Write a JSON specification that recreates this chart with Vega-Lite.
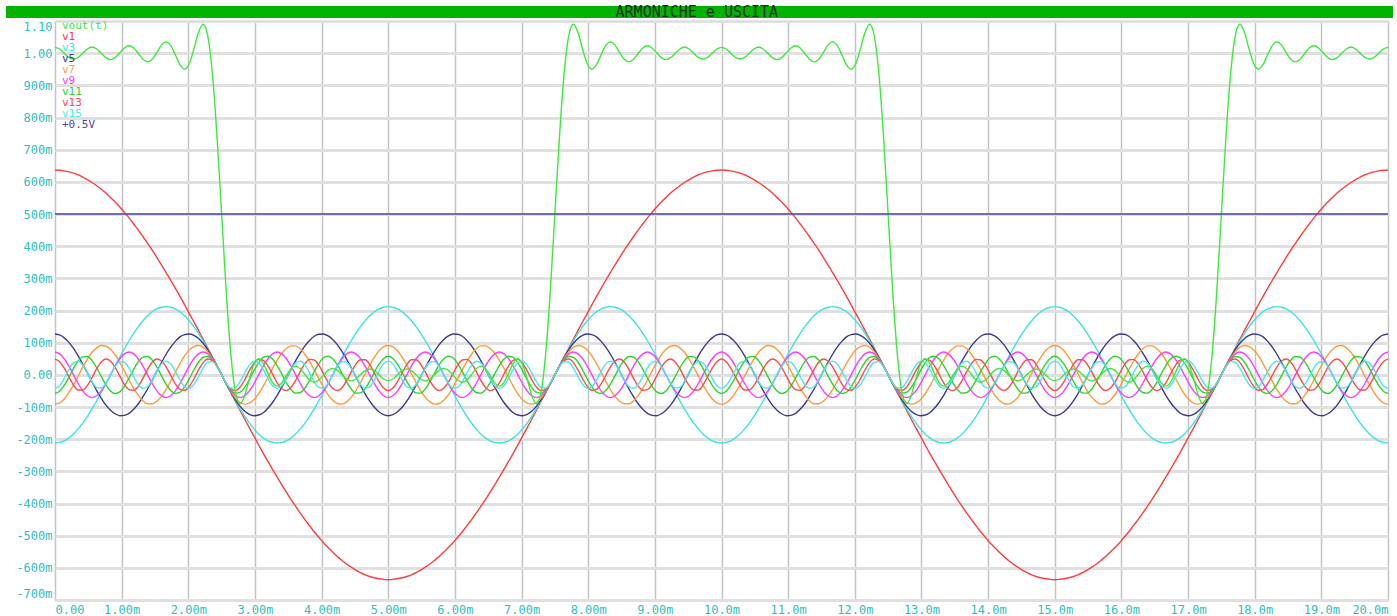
{
"$schema":"https://vega.github.io/schema/vega-lite/v6.json",
"width":1333,"height":579,
"autosize":{"type":"none"},
"padding":{"left":55,"top":21,"right":9,"bottom":16},
"background":"#ffffff",
"config":{"view":{"stroke":"#a8a8a8","strokeWidth":1},"axis":{"labelOverlap":false}},
"datasets":{"harm":[
{"t":0,"v1":0.637,"v3":-0.212,"v5":0.127,"v7":-0.091,"v9":0.071,"v11":-0.058,"v13":0.049,"v15":-0.042,"vout":1.018},
{"t":0.0694,"v1":0.636,"v3":-0.21,"v5":0.124,"v7":-0.087,"v9":0.065,"v11":-0.051,"v13":0.041,"v15":-0.034,"vout":1.013},
{"t":0.1389,"v1":0.634,"v3":-0.205,"v5":0.115,"v7":-0.075,"v9":0.05,"v11":-0.033,"v13":0.021,"v15":-0.011,"vout":1},
{"t":0.2083,"v1":0.631,"v3":-0.196,"v5":0.101,"v7":-0.055,"v9":0.027,"v11":-0.008,"v13":-0.006,"v15":0.016,"vout":0.987},
{"t":0.2778,"v1":0.627,"v3":-0.184,"v5":0.082,"v7":-0.031,"v9":0,"v11":0.02,"v13":-0.032,"v15":0.037,"vout":0.982},
{"t":0.3472,"v1":0.622,"v3":-0.168,"v5":0.059,"v7":-0.004,"v9":-0.027,"v11":0.043,"v13":-0.047,"v15":0.042,"vout":0.987},
{"t":0.4167,"v1":0.615,"v3":-0.15,"v5":0.033,"v7":0.024,"v9":-0.05,"v11":0.056,"v13":-0.047,"v15":0.03,"vout":1},
{"t":0.4861,"v1":0.607,"v3":-0.129,"v5":0.006,"v7":0.049,"v9":-0.065,"v11":0.057,"v13":-0.033,"v15":0.006,"vout":1.013},
{"t":0.5556,"v1":0.598,"v3":-0.106,"v5":-0.022,"v7":0.07,"v9":-0.071,"v11":0.044,"v13":-0.009,"v15":-0.021,"vout":1.019},
{"t":0.625,"v1":0.588,"v3":-0.081,"v5":-0.049,"v7":0.084,"v9":-0.065,"v11":0.022,"v13":0.019,"v15":-0.039,"vout":1.013},
{"t":0.6944,"v1":0.577,"v3":-0.055,"v5":-0.073,"v7":0.091,"v9":-0.05,"v11":-0.005,"v13":0.04,"v15":-0.041,"vout":1},
{"t":0.7639,"v1":0.565,"v3":-0.028,"v5":-0.094,"v7":0.089,"v9":-0.027,"v11":-0.031,"v13":0.049,"v15":-0.026,"vout":0.986},
{"t":0.8333,"v1":0.551,"v3":0,"v5":-0.11,"v7":0.079,"v9":0,"v11":-0.05,"v13":0.042,"v15":0,"vout":0.98},
{"t":0.9028,"v1":0.537,"v3":0.028,"v5":-0.121,"v7":0.062,"v9":0.027,"v11":-0.058,"v13":0.023,"v15":0.026,"vout":0.986},
{"t":0.9722,"v1":0.522,"v3":0.055,"v5":-0.127,"v7":0.038,"v9":0.05,"v11":-0.053,"v13":-0.004,"v15":0.041,"vout":1.001},
{"t":1.0417,"v1":0.505,"v3":0.081,"v5":-0.126,"v7":0.012,"v9":0.065,"v11":-0.035,"v13":-0.03,"v15":0.039,"vout":1.016},
{"t":1.1111,"v1":0.488,"v3":0.106,"v5":-0.12,"v7":-0.016,"v9":0.071,"v11":-0.01,"v13":-0.046,"v15":0.021,"vout":1.023},
{"t":1.1806,"v1":0.469,"v3":0.129,"v5":-0.107,"v7":-0.042,"v9":0.065,"v11":0.017,"v13":-0.048,"v15":-0.006,"vout":1.016},
{"t":1.25,"v1":0.45,"v3":0.15,"v5":-0.09,"v7":-0.064,"v9":0.05,"v11":0.041,"v13":-0.035,"v15":-0.03,"vout":0.999},
{"t":1.3194,"v1":0.43,"v3":0.168,"v5":-0.068,"v7":-0.081,"v9":0.027,"v11":0.055,"v13":-0.011,"v15":-0.042,"vout":0.981},
{"t":1.3889,"v1":0.409,"v3":0.184,"v5":-0.044,"v7":-0.09,"v9":0,"v11":0.057,"v13":0.017,"v15":-0.037,"vout":0.973},
{"t":1.4583,"v1":0.388,"v3":0.196,"v5":-0.017,"v7":-0.09,"v9":-0.027,"v11":0.046,"v13":0.039,"v15":-0.016,"vout":0.981},
{"t":1.5278,"v1":0.365,"v3":0.205,"v5":0.011,"v7":-0.082,"v9":-0.05,"v11":0.025,"v13":0.049,"v15":0.011,"vout":1.002},
{"t":1.5972,"v1":0.342,"v3":0.21,"v5":0.038,"v7":-0.067,"v9":-0.065,"v11":-0.003,"v13":0.043,"v15":0.034,"vout":1.025},
{"t":1.6667,"v1":0.318,"v3":0.212,"v5":0.064,"v7":-0.046,"v9":-0.071,"v11":-0.029,"v13":0.025,"v15":0.042,"vout":1.035},
{"t":1.7361,"v1":0.294,"v3":0.21,"v5":0.086,"v7":-0.02,"v9":-0.065,"v11":-0.049,"v13":-0.002,"v15":0.034,"vout":1.024},
{"t":1.8056,"v1":0.269,"v3":0.205,"v5":0.104,"v7":0.008,"v9":-0.05,"v11":-0.058,"v13":-0.028,"v15":0.011,"vout":0.995},
{"t":1.875,"v1":0.244,"v3":0.196,"v5":0.118,"v7":0.035,"v9":-0.027,"v11":-0.054,"v13":-0.045,"v15":-0.016,"vout":0.964},
{"t":1.9444,"v1":0.218,"v3":0.184,"v5":0.125,"v7":0.059,"v9":0,"v11":-0.037,"v13":-0.048,"v15":-0.037,"vout":0.95},
{"t":2.0139,"v1":0.191,"v3":0.168,"v5":0.127,"v7":0.077,"v9":0.027,"v11":-0.013,"v13":-0.036,"v15":-0.042,"vout":0.967},
{"t":2.0833,"v1":0.165,"v3":0.15,"v5":0.123,"v7":0.088,"v9":0.05,"v11":0.015,"v13":-0.013,"v15":-0.03,"vout":1.012},
{"t":2.1528,"v1":0.138,"v3":0.129,"v5":0.113,"v7":0.091,"v9":0.065,"v11":0.039,"v13":0.015,"v15":-0.006,"vout":1.064},
{"t":2.2222,"v1":0.111,"v3":0.106,"v5":0.098,"v7":0.086,"v9":0.071,"v11":0.054,"v13":0.038,"v15":0.021,"vout":1.09},
{"t":2.2917,"v1":0.083,"v3":0.081,"v5":0.078,"v7":0.072,"v9":0.065,"v11":0.057,"v13":0.049,"v15":0.039,"vout":1.054},
{"t":2.3611,"v1":0.056,"v3":0.055,"v5":0.054,"v7":0.052,"v9":0.05,"v11":0.047,"v13":0.044,"v15":0.041,"vout":0.937},
{"t":2.4306,"v1":0.028,"v3":0.028,"v5":0.028,"v7":0.027,"v9":0.027,"v11":0.027,"v13":0.026,"v15":0.026,"vout":0.742},
{"t":2.5,"v1":0,"v3":0,"v5":0,"v7":0,"v9":0,"v11":0,"v13":0,"v15":0,"vout":0.5},
{"t":2.5694,"v1":-0.028,"v3":-0.028,"v5":-0.028,"v7":-0.027,"v9":-0.027,"v11":-0.027,"v13":-0.026,"v15":-0.026,"vout":0.258},
{"t":2.6389,"v1":-0.056,"v3":-0.055,"v5":-0.054,"v7":-0.052,"v9":-0.05,"v11":-0.047,"v13":-0.044,"v15":-0.041,"vout":0.063},
{"t":2.7083,"v1":-0.083,"v3":-0.081,"v5":-0.078,"v7":-0.072,"v9":-0.065,"v11":-0.057,"v13":-0.049,"v15":-0.039,"vout":-0.054},
{"t":2.7778,"v1":-0.111,"v3":-0.106,"v5":-0.098,"v7":-0.086,"v9":-0.071,"v11":-0.054,"v13":-0.038,"v15":-0.021,"vout":-0.09},
{"t":2.8472,"v1":-0.138,"v3":-0.129,"v5":-0.113,"v7":-0.091,"v9":-0.065,"v11":-0.039,"v13":-0.015,"v15":0.006,"vout":-0.064},
{"t":2.9167,"v1":-0.165,"v3":-0.15,"v5":-0.123,"v7":-0.088,"v9":-0.05,"v11":-0.015,"v13":0.013,"v15":0.03,"vout":-0.012},
{"t":2.9861,"v1":-0.191,"v3":-0.168,"v5":-0.127,"v7":-0.077,"v9":-0.027,"v11":0.013,"v13":0.036,"v15":0.042,"vout":0.033},
{"t":3.0556,"v1":-0.218,"v3":-0.184,"v5":-0.125,"v7":-0.059,"v9":0,"v11":0.037,"v13":0.048,"v15":0.037,"vout":0.05},
{"t":3.125,"v1":-0.244,"v3":-0.196,"v5":-0.118,"v7":-0.035,"v9":0.027,"v11":0.054,"v13":0.045,"v15":0.016,"vout":0.036},
{"t":3.1944,"v1":-0.269,"v3":-0.205,"v5":-0.104,"v7":-0.008,"v9":0.05,"v11":0.058,"v13":0.028,"v15":-0.011,"vout":0.005},
{"t":3.2639,"v1":-0.294,"v3":-0.21,"v5":-0.086,"v7":0.02,"v9":0.065,"v11":0.049,"v13":0.002,"v15":-0.034,"vout":-0.024},
{"t":3.3333,"v1":-0.318,"v3":-0.212,"v5":-0.064,"v7":0.046,"v9":0.071,"v11":0.029,"v13":-0.025,"v15":-0.042,"vout":-0.035},
{"t":3.4028,"v1":-0.342,"v3":-0.21,"v5":-0.038,"v7":0.067,"v9":0.065,"v11":0.003,"v13":-0.043,"v15":-0.034,"vout":-0.025},
{"t":3.4722,"v1":-0.365,"v3":-0.205,"v5":-0.011,"v7":0.082,"v9":0.05,"v11":-0.025,"v13":-0.049,"v15":-0.011,"vout":-0.002},
{"t":3.5417,"v1":-0.388,"v3":-0.196,"v5":0.017,"v7":0.09,"v9":0.027,"v11":-0.046,"v13":-0.039,"v15":0.016,"vout":0.019},
{"t":3.6111,"v1":-0.409,"v3":-0.184,"v5":0.044,"v7":0.09,"v9":0,"v11":-0.057,"v13":-0.017,"v15":0.037,"vout":0.027},
{"t":3.6806,"v1":-0.43,"v3":-0.168,"v5":0.068,"v7":0.081,"v9":-0.027,"v11":-0.055,"v13":0.011,"v15":0.042,"vout":0.019},
{"t":3.75,"v1":-0.45,"v3":-0.15,"v5":0.09,"v7":0.064,"v9":-0.05,"v11":-0.041,"v13":0.035,"v15":0.03,"vout":0.001},
{"t":3.8194,"v1":-0.469,"v3":-0.129,"v5":0.107,"v7":0.042,"v9":-0.065,"v11":-0.017,"v13":0.048,"v15":0.006,"vout":-0.016},
{"t":3.8889,"v1":-0.488,"v3":-0.106,"v5":0.12,"v7":0.016,"v9":-0.071,"v11":0.01,"v13":0.046,"v15":-0.021,"vout":-0.023},
{"t":3.9583,"v1":-0.505,"v3":-0.081,"v5":0.126,"v7":-0.012,"v9":-0.065,"v11":0.035,"v13":0.03,"v15":-0.039,"vout":-0.016},
{"t":4.0278,"v1":-0.522,"v3":-0.055,"v5":0.127,"v7":-0.038,"v9":-0.05,"v11":0.053,"v13":0.004,"v15":-0.041,"vout":-0.001},
{"t":4.0972,"v1":-0.537,"v3":-0.028,"v5":0.121,"v7":-0.062,"v9":-0.027,"v11":0.058,"v13":-0.023,"v15":-0.026,"vout":0.014},
{"t":4.1667,"v1":-0.551,"v3":0,"v5":0.11,"v7":-0.079,"v9":0,"v11":0.05,"v13":-0.042,"v15":0,"vout":0.02},
{"t":4.2361,"v1":-0.565,"v3":0.028,"v5":0.094,"v7":-0.089,"v9":0.027,"v11":0.031,"v13":-0.049,"v15":0.026,"vout":0.014},
{"t":4.3056,"v1":-0.577,"v3":0.055,"v5":0.073,"v7":-0.091,"v9":0.05,"v11":0.005,"v13":-0.04,"v15":0.041,"vout":0},
{"t":4.375,"v1":-0.588,"v3":0.081,"v5":0.049,"v7":-0.084,"v9":0.065,"v11":-0.022,"v13":-0.019,"v15":0.039,"vout":-0.013},
{"t":4.4444,"v1":-0.598,"v3":0.106,"v5":0.022,"v7":-0.07,"v9":0.071,"v11":-0.044,"v13":0.009,"v15":0.021,"vout":-0.019},
{"t":4.5139,"v1":-0.607,"v3":0.129,"v5":-0.006,"v7":-0.049,"v9":0.065,"v11":-0.057,"v13":0.033,"v15":-0.006,"vout":-0.013},
{"t":4.5833,"v1":-0.615,"v3":0.15,"v5":-0.033,"v7":-0.024,"v9":0.05,"v11":-0.056,"v13":0.047,"v15":-0.03,"vout":0},
{"t":4.6528,"v1":-0.622,"v3":0.168,"v5":-0.059,"v7":0.004,"v9":0.027,"v11":-0.043,"v13":0.047,"v15":-0.042,"vout":0.013},
{"t":4.7222,"v1":-0.627,"v3":0.184,"v5":-0.082,"v7":0.031,"v9":0,"v11":-0.02,"v13":0.032,"v15":-0.037,"vout":0.018},
{"t":4.7917,"v1":-0.631,"v3":0.196,"v5":-0.101,"v7":0.055,"v9":-0.027,"v11":0.008,"v13":0.006,"v15":-0.016,"vout":0.013},
{"t":4.8611,"v1":-0.634,"v3":0.205,"v5":-0.115,"v7":0.075,"v9":-0.05,"v11":0.033,"v13":-0.021,"v15":0.011,"vout":0},
{"t":4.9306,"v1":-0.636,"v3":0.21,"v5":-0.124,"v7":0.087,"v9":-0.065,"v11":0.051,"v13":-0.041,"v15":0.034,"vout":-0.013},
{"t":5,"v1":-0.637,"v3":0.212,"v5":-0.127,"v7":0.091,"v9":-0.071,"v11":0.058,"v13":-0.049,"v15":0.042,"vout":-0.018},
{"t":5.0694,"v1":-0.636,"v3":0.21,"v5":-0.124,"v7":0.087,"v9":-0.065,"v11":0.051,"v13":-0.041,"v15":0.034,"vout":-0.013},
{"t":5.1389,"v1":-0.634,"v3":0.205,"v5":-0.115,"v7":0.075,"v9":-0.05,"v11":0.033,"v13":-0.021,"v15":0.011,"vout":0},
{"t":5.2083,"v1":-0.631,"v3":0.196,"v5":-0.101,"v7":0.055,"v9":-0.027,"v11":0.008,"v13":0.006,"v15":-0.016,"vout":0.013},
{"t":5.2778,"v1":-0.627,"v3":0.184,"v5":-0.082,"v7":0.031,"v9":0,"v11":-0.02,"v13":0.032,"v15":-0.037,"vout":0.018},
{"t":5.3472,"v1":-0.622,"v3":0.168,"v5":-0.059,"v7":0.004,"v9":0.027,"v11":-0.043,"v13":0.047,"v15":-0.042,"vout":0.013},
{"t":5.4167,"v1":-0.615,"v3":0.15,"v5":-0.033,"v7":-0.024,"v9":0.05,"v11":-0.056,"v13":0.047,"v15":-0.03,"vout":0},
{"t":5.4861,"v1":-0.607,"v3":0.129,"v5":-0.006,"v7":-0.049,"v9":0.065,"v11":-0.057,"v13":0.033,"v15":-0.006,"vout":-0.013},
{"t":5.5556,"v1":-0.598,"v3":0.106,"v5":0.022,"v7":-0.07,"v9":0.071,"v11":-0.044,"v13":0.009,"v15":0.021,"vout":-0.019},
{"t":5.625,"v1":-0.588,"v3":0.081,"v5":0.049,"v7":-0.084,"v9":0.065,"v11":-0.022,"v13":-0.019,"v15":0.039,"vout":-0.013},
{"t":5.6944,"v1":-0.577,"v3":0.055,"v5":0.073,"v7":-0.091,"v9":0.05,"v11":0.005,"v13":-0.04,"v15":0.041,"vout":0},
{"t":5.7639,"v1":-0.565,"v3":0.028,"v5":0.094,"v7":-0.089,"v9":0.027,"v11":0.031,"v13":-0.049,"v15":0.026,"vout":0.014},
{"t":5.8333,"v1":-0.551,"v3":0,"v5":0.11,"v7":-0.079,"v9":0,"v11":0.05,"v13":-0.042,"v15":0,"vout":0.02},
{"t":5.9028,"v1":-0.537,"v3":-0.028,"v5":0.121,"v7":-0.062,"v9":-0.027,"v11":0.058,"v13":-0.023,"v15":-0.026,"vout":0.014},
{"t":5.9722,"v1":-0.522,"v3":-0.055,"v5":0.127,"v7":-0.038,"v9":-0.05,"v11":0.053,"v13":0.004,"v15":-0.041,"vout":-0.001},
{"t":6.0417,"v1":-0.505,"v3":-0.081,"v5":0.126,"v7":-0.012,"v9":-0.065,"v11":0.035,"v13":0.03,"v15":-0.039,"vout":-0.016},
{"t":6.1111,"v1":-0.488,"v3":-0.106,"v5":0.12,"v7":0.016,"v9":-0.071,"v11":0.01,"v13":0.046,"v15":-0.021,"vout":-0.023},
{"t":6.1806,"v1":-0.469,"v3":-0.129,"v5":0.107,"v7":0.042,"v9":-0.065,"v11":-0.017,"v13":0.048,"v15":0.006,"vout":-0.016},
{"t":6.25,"v1":-0.45,"v3":-0.15,"v5":0.09,"v7":0.064,"v9":-0.05,"v11":-0.041,"v13":0.035,"v15":0.03,"vout":0.001},
{"t":6.3194,"v1":-0.43,"v3":-0.168,"v5":0.068,"v7":0.081,"v9":-0.027,"v11":-0.055,"v13":0.011,"v15":0.042,"vout":0.019},
{"t":6.3889,"v1":-0.409,"v3":-0.184,"v5":0.044,"v7":0.09,"v9":0,"v11":-0.057,"v13":-0.017,"v15":0.037,"vout":0.027},
{"t":6.4583,"v1":-0.388,"v3":-0.196,"v5":0.017,"v7":0.09,"v9":0.027,"v11":-0.046,"v13":-0.039,"v15":0.016,"vout":0.019},
{"t":6.5278,"v1":-0.365,"v3":-0.205,"v5":-0.011,"v7":0.082,"v9":0.05,"v11":-0.025,"v13":-0.049,"v15":-0.011,"vout":-0.002},
{"t":6.5972,"v1":-0.342,"v3":-0.21,"v5":-0.038,"v7":0.067,"v9":0.065,"v11":0.003,"v13":-0.043,"v15":-0.034,"vout":-0.025},
{"t":6.6667,"v1":-0.318,"v3":-0.212,"v5":-0.064,"v7":0.046,"v9":0.071,"v11":0.029,"v13":-0.025,"v15":-0.042,"vout":-0.035},
{"t":6.7361,"v1":-0.294,"v3":-0.21,"v5":-0.086,"v7":0.02,"v9":0.065,"v11":0.049,"v13":0.002,"v15":-0.034,"vout":-0.024},
{"t":6.8056,"v1":-0.269,"v3":-0.205,"v5":-0.104,"v7":-0.008,"v9":0.05,"v11":0.058,"v13":0.028,"v15":-0.011,"vout":0.005},
{"t":6.875,"v1":-0.244,"v3":-0.196,"v5":-0.118,"v7":-0.035,"v9":0.027,"v11":0.054,"v13":0.045,"v15":0.016,"vout":0.036},
{"t":6.9444,"v1":-0.218,"v3":-0.184,"v5":-0.125,"v7":-0.059,"v9":0,"v11":0.037,"v13":0.048,"v15":0.037,"vout":0.05},
{"t":7.0139,"v1":-0.191,"v3":-0.168,"v5":-0.127,"v7":-0.077,"v9":-0.027,"v11":0.013,"v13":0.036,"v15":0.042,"vout":0.033},
{"t":7.0833,"v1":-0.165,"v3":-0.15,"v5":-0.123,"v7":-0.088,"v9":-0.05,"v11":-0.015,"v13":0.013,"v15":0.03,"vout":-0.012},
{"t":7.1528,"v1":-0.138,"v3":-0.129,"v5":-0.113,"v7":-0.091,"v9":-0.065,"v11":-0.039,"v13":-0.015,"v15":0.006,"vout":-0.064},
{"t":7.2222,"v1":-0.111,"v3":-0.106,"v5":-0.098,"v7":-0.086,"v9":-0.071,"v11":-0.054,"v13":-0.038,"v15":-0.021,"vout":-0.09},
{"t":7.2917,"v1":-0.083,"v3":-0.081,"v5":-0.078,"v7":-0.072,"v9":-0.065,"v11":-0.057,"v13":-0.049,"v15":-0.039,"vout":-0.054},
{"t":7.3611,"v1":-0.056,"v3":-0.055,"v5":-0.054,"v7":-0.052,"v9":-0.05,"v11":-0.047,"v13":-0.044,"v15":-0.041,"vout":0.063},
{"t":7.4306,"v1":-0.028,"v3":-0.028,"v5":-0.028,"v7":-0.027,"v9":-0.027,"v11":-0.027,"v13":-0.026,"v15":-0.026,"vout":0.258},
{"t":7.5,"v1":0,"v3":0,"v5":0,"v7":0,"v9":0,"v11":0,"v13":0,"v15":0,"vout":0.5},
{"t":7.5694,"v1":0.028,"v3":0.028,"v5":0.028,"v7":0.027,"v9":0.027,"v11":0.027,"v13":0.026,"v15":0.026,"vout":0.742},
{"t":7.6389,"v1":0.056,"v3":0.055,"v5":0.054,"v7":0.052,"v9":0.05,"v11":0.047,"v13":0.044,"v15":0.041,"vout":0.937},
{"t":7.7083,"v1":0.083,"v3":0.081,"v5":0.078,"v7":0.072,"v9":0.065,"v11":0.057,"v13":0.049,"v15":0.039,"vout":1.054},
{"t":7.7778,"v1":0.111,"v3":0.106,"v5":0.098,"v7":0.086,"v9":0.071,"v11":0.054,"v13":0.038,"v15":0.021,"vout":1.09},
{"t":7.8472,"v1":0.138,"v3":0.129,"v5":0.113,"v7":0.091,"v9":0.065,"v11":0.039,"v13":0.015,"v15":-0.006,"vout":1.064},
{"t":7.9167,"v1":0.165,"v3":0.15,"v5":0.123,"v7":0.088,"v9":0.05,"v11":0.015,"v13":-0.013,"v15":-0.03,"vout":1.012},
{"t":7.9861,"v1":0.191,"v3":0.168,"v5":0.127,"v7":0.077,"v9":0.027,"v11":-0.013,"v13":-0.036,"v15":-0.042,"vout":0.967},
{"t":8.0556,"v1":0.218,"v3":0.184,"v5":0.125,"v7":0.059,"v9":0,"v11":-0.037,"v13":-0.048,"v15":-0.037,"vout":0.95},
{"t":8.125,"v1":0.244,"v3":0.196,"v5":0.118,"v7":0.035,"v9":-0.027,"v11":-0.054,"v13":-0.045,"v15":-0.016,"vout":0.964},
{"t":8.1944,"v1":0.269,"v3":0.205,"v5":0.104,"v7":0.008,"v9":-0.05,"v11":-0.058,"v13":-0.028,"v15":0.011,"vout":0.995},
{"t":8.2639,"v1":0.294,"v3":0.21,"v5":0.086,"v7":-0.02,"v9":-0.065,"v11":-0.049,"v13":-0.002,"v15":0.034,"vout":1.024},
{"t":8.3333,"v1":0.318,"v3":0.212,"v5":0.064,"v7":-0.046,"v9":-0.071,"v11":-0.029,"v13":0.025,"v15":0.042,"vout":1.035},
{"t":8.4028,"v1":0.342,"v3":0.21,"v5":0.038,"v7":-0.067,"v9":-0.065,"v11":-0.003,"v13":0.043,"v15":0.034,"vout":1.025},
{"t":8.4722,"v1":0.365,"v3":0.205,"v5":0.011,"v7":-0.082,"v9":-0.05,"v11":0.025,"v13":0.049,"v15":0.011,"vout":1.002},
{"t":8.5417,"v1":0.388,"v3":0.196,"v5":-0.017,"v7":-0.09,"v9":-0.027,"v11":0.046,"v13":0.039,"v15":-0.016,"vout":0.981},
{"t":8.6111,"v1":0.409,"v3":0.184,"v5":-0.044,"v7":-0.09,"v9":0,"v11":0.057,"v13":0.017,"v15":-0.037,"vout":0.973},
{"t":8.6806,"v1":0.43,"v3":0.168,"v5":-0.068,"v7":-0.081,"v9":0.027,"v11":0.055,"v13":-0.011,"v15":-0.042,"vout":0.981},
{"t":8.75,"v1":0.45,"v3":0.15,"v5":-0.09,"v7":-0.064,"v9":0.05,"v11":0.041,"v13":-0.035,"v15":-0.03,"vout":0.999},
{"t":8.8194,"v1":0.469,"v3":0.129,"v5":-0.107,"v7":-0.042,"v9":0.065,"v11":0.017,"v13":-0.048,"v15":-0.006,"vout":1.016},
{"t":8.8889,"v1":0.488,"v3":0.106,"v5":-0.12,"v7":-0.016,"v9":0.071,"v11":-0.01,"v13":-0.046,"v15":0.021,"vout":1.023},
{"t":8.9583,"v1":0.505,"v3":0.081,"v5":-0.126,"v7":0.012,"v9":0.065,"v11":-0.035,"v13":-0.03,"v15":0.039,"vout":1.016},
{"t":9.0278,"v1":0.522,"v3":0.055,"v5":-0.127,"v7":0.038,"v9":0.05,"v11":-0.053,"v13":-0.004,"v15":0.041,"vout":1.001},
{"t":9.0972,"v1":0.537,"v3":0.028,"v5":-0.121,"v7":0.062,"v9":0.027,"v11":-0.058,"v13":0.023,"v15":0.026,"vout":0.986},
{"t":9.1667,"v1":0.551,"v3":0,"v5":-0.11,"v7":0.079,"v9":0,"v11":-0.05,"v13":0.042,"v15":0,"vout":0.98},
{"t":9.2361,"v1":0.565,"v3":-0.028,"v5":-0.094,"v7":0.089,"v9":-0.027,"v11":-0.031,"v13":0.049,"v15":-0.026,"vout":0.986},
{"t":9.3056,"v1":0.577,"v3":-0.055,"v5":-0.073,"v7":0.091,"v9":-0.05,"v11":-0.005,"v13":0.04,"v15":-0.041,"vout":1},
{"t":9.375,"v1":0.588,"v3":-0.081,"v5":-0.049,"v7":0.084,"v9":-0.065,"v11":0.022,"v13":0.019,"v15":-0.039,"vout":1.013},
{"t":9.4444,"v1":0.598,"v3":-0.106,"v5":-0.022,"v7":0.07,"v9":-0.071,"v11":0.044,"v13":-0.009,"v15":-0.021,"vout":1.019},
{"t":9.5139,"v1":0.607,"v3":-0.129,"v5":0.006,"v7":0.049,"v9":-0.065,"v11":0.057,"v13":-0.033,"v15":0.006,"vout":1.013},
{"t":9.5833,"v1":0.615,"v3":-0.15,"v5":0.033,"v7":0.024,"v9":-0.05,"v11":0.056,"v13":-0.047,"v15":0.03,"vout":1},
{"t":9.6528,"v1":0.622,"v3":-0.168,"v5":0.059,"v7":-0.004,"v9":-0.027,"v11":0.043,"v13":-0.047,"v15":0.042,"vout":0.987},
{"t":9.7222,"v1":0.627,"v3":-0.184,"v5":0.082,"v7":-0.031,"v9":0,"v11":0.02,"v13":-0.032,"v15":0.037,"vout":0.982},
{"t":9.7917,"v1":0.631,"v3":-0.196,"v5":0.101,"v7":-0.055,"v9":0.027,"v11":-0.008,"v13":-0.006,"v15":0.016,"vout":0.987},
{"t":9.8611,"v1":0.634,"v3":-0.205,"v5":0.115,"v7":-0.075,"v9":0.05,"v11":-0.033,"v13":0.021,"v15":-0.011,"vout":1},
{"t":9.9306,"v1":0.636,"v3":-0.21,"v5":0.124,"v7":-0.087,"v9":0.065,"v11":-0.051,"v13":0.041,"v15":-0.034,"vout":1.013},
{"t":10,"v1":0.637,"v3":-0.212,"v5":0.127,"v7":-0.091,"v9":0.071,"v11":-0.058,"v13":0.049,"v15":-0.042,"vout":1.018},
{"t":10.0694,"v1":0.636,"v3":-0.21,"v5":0.124,"v7":-0.087,"v9":0.065,"v11":-0.051,"v13":0.041,"v15":-0.034,"vout":1.013},
{"t":10.1389,"v1":0.634,"v3":-0.205,"v5":0.115,"v7":-0.075,"v9":0.05,"v11":-0.033,"v13":0.021,"v15":-0.011,"vout":1},
{"t":10.2083,"v1":0.631,"v3":-0.196,"v5":0.101,"v7":-0.055,"v9":0.027,"v11":-0.008,"v13":-0.006,"v15":0.016,"vout":0.987},
{"t":10.2778,"v1":0.627,"v3":-0.184,"v5":0.082,"v7":-0.031,"v9":0,"v11":0.02,"v13":-0.032,"v15":0.037,"vout":0.982},
{"t":10.3472,"v1":0.622,"v3":-0.168,"v5":0.059,"v7":-0.004,"v9":-0.027,"v11":0.043,"v13":-0.047,"v15":0.042,"vout":0.987},
{"t":10.4167,"v1":0.615,"v3":-0.15,"v5":0.033,"v7":0.024,"v9":-0.05,"v11":0.056,"v13":-0.047,"v15":0.03,"vout":1},
{"t":10.4861,"v1":0.607,"v3":-0.129,"v5":0.006,"v7":0.049,"v9":-0.065,"v11":0.057,"v13":-0.033,"v15":0.006,"vout":1.013},
{"t":10.5556,"v1":0.598,"v3":-0.106,"v5":-0.022,"v7":0.07,"v9":-0.071,"v11":0.044,"v13":-0.009,"v15":-0.021,"vout":1.019},
{"t":10.625,"v1":0.588,"v3":-0.081,"v5":-0.049,"v7":0.084,"v9":-0.065,"v11":0.022,"v13":0.019,"v15":-0.039,"vout":1.013},
{"t":10.6944,"v1":0.577,"v3":-0.055,"v5":-0.073,"v7":0.091,"v9":-0.05,"v11":-0.005,"v13":0.04,"v15":-0.041,"vout":1},
{"t":10.7639,"v1":0.565,"v3":-0.028,"v5":-0.094,"v7":0.089,"v9":-0.027,"v11":-0.031,"v13":0.049,"v15":-0.026,"vout":0.986},
{"t":10.8333,"v1":0.551,"v3":0,"v5":-0.11,"v7":0.079,"v9":0,"v11":-0.05,"v13":0.042,"v15":0,"vout":0.98},
{"t":10.9028,"v1":0.537,"v3":0.028,"v5":-0.121,"v7":0.062,"v9":0.027,"v11":-0.058,"v13":0.023,"v15":0.026,"vout":0.986},
{"t":10.9722,"v1":0.522,"v3":0.055,"v5":-0.127,"v7":0.038,"v9":0.05,"v11":-0.053,"v13":-0.004,"v15":0.041,"vout":1.001},
{"t":11.0417,"v1":0.505,"v3":0.081,"v5":-0.126,"v7":0.012,"v9":0.065,"v11":-0.035,"v13":-0.03,"v15":0.039,"vout":1.016},
{"t":11.1111,"v1":0.488,"v3":0.106,"v5":-0.12,"v7":-0.016,"v9":0.071,"v11":-0.01,"v13":-0.046,"v15":0.021,"vout":1.023},
{"t":11.1806,"v1":0.469,"v3":0.129,"v5":-0.107,"v7":-0.042,"v9":0.065,"v11":0.017,"v13":-0.048,"v15":-0.006,"vout":1.016},
{"t":11.25,"v1":0.45,"v3":0.15,"v5":-0.09,"v7":-0.064,"v9":0.05,"v11":0.041,"v13":-0.035,"v15":-0.03,"vout":0.999},
{"t":11.3194,"v1":0.43,"v3":0.168,"v5":-0.068,"v7":-0.081,"v9":0.027,"v11":0.055,"v13":-0.011,"v15":-0.042,"vout":0.981},
{"t":11.3889,"v1":0.409,"v3":0.184,"v5":-0.044,"v7":-0.09,"v9":0,"v11":0.057,"v13":0.017,"v15":-0.037,"vout":0.973},
{"t":11.4583,"v1":0.388,"v3":0.196,"v5":-0.017,"v7":-0.09,"v9":-0.027,"v11":0.046,"v13":0.039,"v15":-0.016,"vout":0.981},
{"t":11.5278,"v1":0.365,"v3":0.205,"v5":0.011,"v7":-0.082,"v9":-0.05,"v11":0.025,"v13":0.049,"v15":0.011,"vout":1.002},
{"t":11.5972,"v1":0.342,"v3":0.21,"v5":0.038,"v7":-0.067,"v9":-0.065,"v11":-0.003,"v13":0.043,"v15":0.034,"vout":1.025},
{"t":11.6667,"v1":0.318,"v3":0.212,"v5":0.064,"v7":-0.046,"v9":-0.071,"v11":-0.029,"v13":0.025,"v15":0.042,"vout":1.035},
{"t":11.7361,"v1":0.294,"v3":0.21,"v5":0.086,"v7":-0.02,"v9":-0.065,"v11":-0.049,"v13":-0.002,"v15":0.034,"vout":1.024},
{"t":11.8056,"v1":0.269,"v3":0.205,"v5":0.104,"v7":0.008,"v9":-0.05,"v11":-0.058,"v13":-0.028,"v15":0.011,"vout":0.995},
{"t":11.875,"v1":0.244,"v3":0.196,"v5":0.118,"v7":0.035,"v9":-0.027,"v11":-0.054,"v13":-0.045,"v15":-0.016,"vout":0.964},
{"t":11.9444,"v1":0.218,"v3":0.184,"v5":0.125,"v7":0.059,"v9":0,"v11":-0.037,"v13":-0.048,"v15":-0.037,"vout":0.95},
{"t":12.0139,"v1":0.191,"v3":0.168,"v5":0.127,"v7":0.077,"v9":0.027,"v11":-0.013,"v13":-0.036,"v15":-0.042,"vout":0.967},
{"t":12.0833,"v1":0.165,"v3":0.15,"v5":0.123,"v7":0.088,"v9":0.05,"v11":0.015,"v13":-0.013,"v15":-0.03,"vout":1.012},
{"t":12.1528,"v1":0.138,"v3":0.129,"v5":0.113,"v7":0.091,"v9":0.065,"v11":0.039,"v13":0.015,"v15":-0.006,"vout":1.064},
{"t":12.2222,"v1":0.111,"v3":0.106,"v5":0.098,"v7":0.086,"v9":0.071,"v11":0.054,"v13":0.038,"v15":0.021,"vout":1.09},
{"t":12.2917,"v1":0.083,"v3":0.081,"v5":0.078,"v7":0.072,"v9":0.065,"v11":0.057,"v13":0.049,"v15":0.039,"vout":1.054},
{"t":12.3611,"v1":0.056,"v3":0.055,"v5":0.054,"v7":0.052,"v9":0.05,"v11":0.047,"v13":0.044,"v15":0.041,"vout":0.937},
{"t":12.4306,"v1":0.028,"v3":0.028,"v5":0.028,"v7":0.027,"v9":0.027,"v11":0.027,"v13":0.026,"v15":0.026,"vout":0.742},
{"t":12.5,"v1":0,"v3":0,"v5":0,"v7":0,"v9":0,"v11":0,"v13":0,"v15":0,"vout":0.5},
{"t":12.5694,"v1":-0.028,"v3":-0.028,"v5":-0.028,"v7":-0.027,"v9":-0.027,"v11":-0.027,"v13":-0.026,"v15":-0.026,"vout":0.258},
{"t":12.6389,"v1":-0.056,"v3":-0.055,"v5":-0.054,"v7":-0.052,"v9":-0.05,"v11":-0.047,"v13":-0.044,"v15":-0.041,"vout":0.063},
{"t":12.7083,"v1":-0.083,"v3":-0.081,"v5":-0.078,"v7":-0.072,"v9":-0.065,"v11":-0.057,"v13":-0.049,"v15":-0.039,"vout":-0.054},
{"t":12.7778,"v1":-0.111,"v3":-0.106,"v5":-0.098,"v7":-0.086,"v9":-0.071,"v11":-0.054,"v13":-0.038,"v15":-0.021,"vout":-0.09},
{"t":12.8472,"v1":-0.138,"v3":-0.129,"v5":-0.113,"v7":-0.091,"v9":-0.065,"v11":-0.039,"v13":-0.015,"v15":0.006,"vout":-0.064},
{"t":12.9167,"v1":-0.165,"v3":-0.15,"v5":-0.123,"v7":-0.088,"v9":-0.05,"v11":-0.015,"v13":0.013,"v15":0.03,"vout":-0.012},
{"t":12.9861,"v1":-0.191,"v3":-0.168,"v5":-0.127,"v7":-0.077,"v9":-0.027,"v11":0.013,"v13":0.036,"v15":0.042,"vout":0.033},
{"t":13.0556,"v1":-0.218,"v3":-0.184,"v5":-0.125,"v7":-0.059,"v9":0,"v11":0.037,"v13":0.048,"v15":0.037,"vout":0.05},
{"t":13.125,"v1":-0.244,"v3":-0.196,"v5":-0.118,"v7":-0.035,"v9":0.027,"v11":0.054,"v13":0.045,"v15":0.016,"vout":0.036},
{"t":13.1944,"v1":-0.269,"v3":-0.205,"v5":-0.104,"v7":-0.008,"v9":0.05,"v11":0.058,"v13":0.028,"v15":-0.011,"vout":0.005},
{"t":13.2639,"v1":-0.294,"v3":-0.21,"v5":-0.086,"v7":0.02,"v9":0.065,"v11":0.049,"v13":0.002,"v15":-0.034,"vout":-0.024},
{"t":13.3333,"v1":-0.318,"v3":-0.212,"v5":-0.064,"v7":0.046,"v9":0.071,"v11":0.029,"v13":-0.025,"v15":-0.042,"vout":-0.035},
{"t":13.4028,"v1":-0.342,"v3":-0.21,"v5":-0.038,"v7":0.067,"v9":0.065,"v11":0.003,"v13":-0.043,"v15":-0.034,"vout":-0.025},
{"t":13.4722,"v1":-0.365,"v3":-0.205,"v5":-0.011,"v7":0.082,"v9":0.05,"v11":-0.025,"v13":-0.049,"v15":-0.011,"vout":-0.002},
{"t":13.5417,"v1":-0.388,"v3":-0.196,"v5":0.017,"v7":0.09,"v9":0.027,"v11":-0.046,"v13":-0.039,"v15":0.016,"vout":0.019},
{"t":13.6111,"v1":-0.409,"v3":-0.184,"v5":0.044,"v7":0.09,"v9":0,"v11":-0.057,"v13":-0.017,"v15":0.037,"vout":0.027},
{"t":13.6806,"v1":-0.43,"v3":-0.168,"v5":0.068,"v7":0.081,"v9":-0.027,"v11":-0.055,"v13":0.011,"v15":0.042,"vout":0.019},
{"t":13.75,"v1":-0.45,"v3":-0.15,"v5":0.09,"v7":0.064,"v9":-0.05,"v11":-0.041,"v13":0.035,"v15":0.03,"vout":0.001},
{"t":13.8194,"v1":-0.469,"v3":-0.129,"v5":0.107,"v7":0.042,"v9":-0.065,"v11":-0.017,"v13":0.048,"v15":0.006,"vout":-0.016},
{"t":13.8889,"v1":-0.488,"v3":-0.106,"v5":0.12,"v7":0.016,"v9":-0.071,"v11":0.01,"v13":0.046,"v15":-0.021,"vout":-0.023},
{"t":13.9583,"v1":-0.505,"v3":-0.081,"v5":0.126,"v7":-0.012,"v9":-0.065,"v11":0.035,"v13":0.03,"v15":-0.039,"vout":-0.016},
{"t":14.0278,"v1":-0.522,"v3":-0.055,"v5":0.127,"v7":-0.038,"v9":-0.05,"v11":0.053,"v13":0.004,"v15":-0.041,"vout":-0.001},
{"t":14.0972,"v1":-0.537,"v3":-0.028,"v5":0.121,"v7":-0.062,"v9":-0.027,"v11":0.058,"v13":-0.023,"v15":-0.026,"vout":0.014},
{"t":14.1667,"v1":-0.551,"v3":0,"v5":0.11,"v7":-0.079,"v9":0,"v11":0.05,"v13":-0.042,"v15":0,"vout":0.02},
{"t":14.2361,"v1":-0.565,"v3":0.028,"v5":0.094,"v7":-0.089,"v9":0.027,"v11":0.031,"v13":-0.049,"v15":0.026,"vout":0.014},
{"t":14.3056,"v1":-0.577,"v3":0.055,"v5":0.073,"v7":-0.091,"v9":0.05,"v11":0.005,"v13":-0.04,"v15":0.041,"vout":0},
{"t":14.375,"v1":-0.588,"v3":0.081,"v5":0.049,"v7":-0.084,"v9":0.065,"v11":-0.022,"v13":-0.019,"v15":0.039,"vout":-0.013},
{"t":14.4444,"v1":-0.598,"v3":0.106,"v5":0.022,"v7":-0.07,"v9":0.071,"v11":-0.044,"v13":0.009,"v15":0.021,"vout":-0.019},
{"t":14.5139,"v1":-0.607,"v3":0.129,"v5":-0.006,"v7":-0.049,"v9":0.065,"v11":-0.057,"v13":0.033,"v15":-0.006,"vout":-0.013},
{"t":14.5833,"v1":-0.615,"v3":0.15,"v5":-0.033,"v7":-0.024,"v9":0.05,"v11":-0.056,"v13":0.047,"v15":-0.03,"vout":0},
{"t":14.6528,"v1":-0.622,"v3":0.168,"v5":-0.059,"v7":0.004,"v9":0.027,"v11":-0.043,"v13":0.047,"v15":-0.042,"vout":0.013},
{"t":14.7222,"v1":-0.627,"v3":0.184,"v5":-0.082,"v7":0.031,"v9":0,"v11":-0.02,"v13":0.032,"v15":-0.037,"vout":0.018},
{"t":14.7917,"v1":-0.631,"v3":0.196,"v5":-0.101,"v7":0.055,"v9":-0.027,"v11":0.008,"v13":0.006,"v15":-0.016,"vout":0.013},
{"t":14.8611,"v1":-0.634,"v3":0.205,"v5":-0.115,"v7":0.075,"v9":-0.05,"v11":0.033,"v13":-0.021,"v15":0.011,"vout":0},
{"t":14.9306,"v1":-0.636,"v3":0.21,"v5":-0.124,"v7":0.087,"v9":-0.065,"v11":0.051,"v13":-0.041,"v15":0.034,"vout":-0.013},
{"t":15,"v1":-0.637,"v3":0.212,"v5":-0.127,"v7":0.091,"v9":-0.071,"v11":0.058,"v13":-0.049,"v15":0.042,"vout":-0.018},
{"t":15.0694,"v1":-0.636,"v3":0.21,"v5":-0.124,"v7":0.087,"v9":-0.065,"v11":0.051,"v13":-0.041,"v15":0.034,"vout":-0.013},
{"t":15.1389,"v1":-0.634,"v3":0.205,"v5":-0.115,"v7":0.075,"v9":-0.05,"v11":0.033,"v13":-0.021,"v15":0.011,"vout":0},
{"t":15.2083,"v1":-0.631,"v3":0.196,"v5":-0.101,"v7":0.055,"v9":-0.027,"v11":0.008,"v13":0.006,"v15":-0.016,"vout":0.013},
{"t":15.2778,"v1":-0.627,"v3":0.184,"v5":-0.082,"v7":0.031,"v9":0,"v11":-0.02,"v13":0.032,"v15":-0.037,"vout":0.018},
{"t":15.3472,"v1":-0.622,"v3":0.168,"v5":-0.059,"v7":0.004,"v9":0.027,"v11":-0.043,"v13":0.047,"v15":-0.042,"vout":0.013},
{"t":15.4167,"v1":-0.615,"v3":0.15,"v5":-0.033,"v7":-0.024,"v9":0.05,"v11":-0.056,"v13":0.047,"v15":-0.03,"vout":0},
{"t":15.4861,"v1":-0.607,"v3":0.129,"v5":-0.006,"v7":-0.049,"v9":0.065,"v11":-0.057,"v13":0.033,"v15":-0.006,"vout":-0.013},
{"t":15.5556,"v1":-0.598,"v3":0.106,"v5":0.022,"v7":-0.07,"v9":0.071,"v11":-0.044,"v13":0.009,"v15":0.021,"vout":-0.019},
{"t":15.625,"v1":-0.588,"v3":0.081,"v5":0.049,"v7":-0.084,"v9":0.065,"v11":-0.022,"v13":-0.019,"v15":0.039,"vout":-0.013},
{"t":15.6944,"v1":-0.577,"v3":0.055,"v5":0.073,"v7":-0.091,"v9":0.05,"v11":0.005,"v13":-0.04,"v15":0.041,"vout":0},
{"t":15.7639,"v1":-0.565,"v3":0.028,"v5":0.094,"v7":-0.089,"v9":0.027,"v11":0.031,"v13":-0.049,"v15":0.026,"vout":0.014},
{"t":15.8333,"v1":-0.551,"v3":0,"v5":0.11,"v7":-0.079,"v9":0,"v11":0.05,"v13":-0.042,"v15":0,"vout":0.02},
{"t":15.9028,"v1":-0.537,"v3":-0.028,"v5":0.121,"v7":-0.062,"v9":-0.027,"v11":0.058,"v13":-0.023,"v15":-0.026,"vout":0.014},
{"t":15.9722,"v1":-0.522,"v3":-0.055,"v5":0.127,"v7":-0.038,"v9":-0.05,"v11":0.053,"v13":0.004,"v15":-0.041,"vout":-0.001},
{"t":16.0417,"v1":-0.505,"v3":-0.081,"v5":0.126,"v7":-0.012,"v9":-0.065,"v11":0.035,"v13":0.03,"v15":-0.039,"vout":-0.016},
{"t":16.1111,"v1":-0.488,"v3":-0.106,"v5":0.12,"v7":0.016,"v9":-0.071,"v11":0.01,"v13":0.046,"v15":-0.021,"vout":-0.023},
{"t":16.1806,"v1":-0.469,"v3":-0.129,"v5":0.107,"v7":0.042,"v9":-0.065,"v11":-0.017,"v13":0.048,"v15":0.006,"vout":-0.016},
{"t":16.25,"v1":-0.45,"v3":-0.15,"v5":0.09,"v7":0.064,"v9":-0.05,"v11":-0.041,"v13":0.035,"v15":0.03,"vout":0.001},
{"t":16.3194,"v1":-0.43,"v3":-0.168,"v5":0.068,"v7":0.081,"v9":-0.027,"v11":-0.055,"v13":0.011,"v15":0.042,"vout":0.019},
{"t":16.3889,"v1":-0.409,"v3":-0.184,"v5":0.044,"v7":0.09,"v9":0,"v11":-0.057,"v13":-0.017,"v15":0.037,"vout":0.027},
{"t":16.4583,"v1":-0.388,"v3":-0.196,"v5":0.017,"v7":0.09,"v9":0.027,"v11":-0.046,"v13":-0.039,"v15":0.016,"vout":0.019},
{"t":16.5278,"v1":-0.365,"v3":-0.205,"v5":-0.011,"v7":0.082,"v9":0.05,"v11":-0.025,"v13":-0.049,"v15":-0.011,"vout":-0.002},
{"t":16.5972,"v1":-0.342,"v3":-0.21,"v5":-0.038,"v7":0.067,"v9":0.065,"v11":0.003,"v13":-0.043,"v15":-0.034,"vout":-0.025},
{"t":16.6667,"v1":-0.318,"v3":-0.212,"v5":-0.064,"v7":0.046,"v9":0.071,"v11":0.029,"v13":-0.025,"v15":-0.042,"vout":-0.035},
{"t":16.7361,"v1":-0.294,"v3":-0.21,"v5":-0.086,"v7":0.02,"v9":0.065,"v11":0.049,"v13":0.002,"v15":-0.034,"vout":-0.024},
{"t":16.8056,"v1":-0.269,"v3":-0.205,"v5":-0.104,"v7":-0.008,"v9":0.05,"v11":0.058,"v13":0.028,"v15":-0.011,"vout":0.005},
{"t":16.875,"v1":-0.244,"v3":-0.196,"v5":-0.118,"v7":-0.035,"v9":0.027,"v11":0.054,"v13":0.045,"v15":0.016,"vout":0.036},
{"t":16.9444,"v1":-0.218,"v3":-0.184,"v5":-0.125,"v7":-0.059,"v9":0,"v11":0.037,"v13":0.048,"v15":0.037,"vout":0.05},
{"t":17.0139,"v1":-0.191,"v3":-0.168,"v5":-0.127,"v7":-0.077,"v9":-0.027,"v11":0.013,"v13":0.036,"v15":0.042,"vout":0.033},
{"t":17.0833,"v1":-0.165,"v3":-0.15,"v5":-0.123,"v7":-0.088,"v9":-0.05,"v11":-0.015,"v13":0.013,"v15":0.03,"vout":-0.012},
{"t":17.1528,"v1":-0.138,"v3":-0.129,"v5":-0.113,"v7":-0.091,"v9":-0.065,"v11":-0.039,"v13":-0.015,"v15":0.006,"vout":-0.064},
{"t":17.2222,"v1":-0.111,"v3":-0.106,"v5":-0.098,"v7":-0.086,"v9":-0.071,"v11":-0.054,"v13":-0.038,"v15":-0.021,"vout":-0.09},
{"t":17.2917,"v1":-0.083,"v3":-0.081,"v5":-0.078,"v7":-0.072,"v9":-0.065,"v11":-0.057,"v13":-0.049,"v15":-0.039,"vout":-0.054},
{"t":17.3611,"v1":-0.056,"v3":-0.055,"v5":-0.054,"v7":-0.052,"v9":-0.05,"v11":-0.047,"v13":-0.044,"v15":-0.041,"vout":0.063},
{"t":17.4306,"v1":-0.028,"v3":-0.028,"v5":-0.028,"v7":-0.027,"v9":-0.027,"v11":-0.027,"v13":-0.026,"v15":-0.026,"vout":0.258},
{"t":17.5,"v1":0,"v3":0,"v5":0,"v7":0,"v9":0,"v11":0,"v13":0,"v15":0,"vout":0.5},
{"t":17.5694,"v1":0.028,"v3":0.028,"v5":0.028,"v7":0.027,"v9":0.027,"v11":0.027,"v13":0.026,"v15":0.026,"vout":0.742},
{"t":17.6389,"v1":0.056,"v3":0.055,"v5":0.054,"v7":0.052,"v9":0.05,"v11":0.047,"v13":0.044,"v15":0.041,"vout":0.937},
{"t":17.7083,"v1":0.083,"v3":0.081,"v5":0.078,"v7":0.072,"v9":0.065,"v11":0.057,"v13":0.049,"v15":0.039,"vout":1.054},
{"t":17.7778,"v1":0.111,"v3":0.106,"v5":0.098,"v7":0.086,"v9":0.071,"v11":0.054,"v13":0.038,"v15":0.021,"vout":1.09},
{"t":17.8472,"v1":0.138,"v3":0.129,"v5":0.113,"v7":0.091,"v9":0.065,"v11":0.039,"v13":0.015,"v15":-0.006,"vout":1.064},
{"t":17.9167,"v1":0.165,"v3":0.15,"v5":0.123,"v7":0.088,"v9":0.05,"v11":0.015,"v13":-0.013,"v15":-0.03,"vout":1.012},
{"t":17.9861,"v1":0.191,"v3":0.168,"v5":0.127,"v7":0.077,"v9":0.027,"v11":-0.013,"v13":-0.036,"v15":-0.042,"vout":0.967},
{"t":18.0556,"v1":0.218,"v3":0.184,"v5":0.125,"v7":0.059,"v9":0,"v11":-0.037,"v13":-0.048,"v15":-0.037,"vout":0.95},
{"t":18.125,"v1":0.244,"v3":0.196,"v5":0.118,"v7":0.035,"v9":-0.027,"v11":-0.054,"v13":-0.045,"v15":-0.016,"vout":0.964},
{"t":18.1944,"v1":0.269,"v3":0.205,"v5":0.104,"v7":0.008,"v9":-0.05,"v11":-0.058,"v13":-0.028,"v15":0.011,"vout":0.995},
{"t":18.2639,"v1":0.294,"v3":0.21,"v5":0.086,"v7":-0.02,"v9":-0.065,"v11":-0.049,"v13":-0.002,"v15":0.034,"vout":1.024},
{"t":18.3333,"v1":0.318,"v3":0.212,"v5":0.064,"v7":-0.046,"v9":-0.071,"v11":-0.029,"v13":0.025,"v15":0.042,"vout":1.035},
{"t":18.4028,"v1":0.342,"v3":0.21,"v5":0.038,"v7":-0.067,"v9":-0.065,"v11":-0.003,"v13":0.043,"v15":0.034,"vout":1.025},
{"t":18.4722,"v1":0.365,"v3":0.205,"v5":0.011,"v7":-0.082,"v9":-0.05,"v11":0.025,"v13":0.049,"v15":0.011,"vout":1.002},
{"t":18.5417,"v1":0.388,"v3":0.196,"v5":-0.017,"v7":-0.09,"v9":-0.027,"v11":0.046,"v13":0.039,"v15":-0.016,"vout":0.981},
{"t":18.6111,"v1":0.409,"v3":0.184,"v5":-0.044,"v7":-0.09,"v9":0,"v11":0.057,"v13":0.017,"v15":-0.037,"vout":0.973},
{"t":18.6806,"v1":0.43,"v3":0.168,"v5":-0.068,"v7":-0.081,"v9":0.027,"v11":0.055,"v13":-0.011,"v15":-0.042,"vout":0.981},
{"t":18.75,"v1":0.45,"v3":0.15,"v5":-0.09,"v7":-0.064,"v9":0.05,"v11":0.041,"v13":-0.035,"v15":-0.03,"vout":0.999},
{"t":18.8194,"v1":0.469,"v3":0.129,"v5":-0.107,"v7":-0.042,"v9":0.065,"v11":0.017,"v13":-0.048,"v15":-0.006,"vout":1.016},
{"t":18.8889,"v1":0.488,"v3":0.106,"v5":-0.12,"v7":-0.016,"v9":0.071,"v11":-0.01,"v13":-0.046,"v15":0.021,"vout":1.023},
{"t":18.9583,"v1":0.505,"v3":0.081,"v5":-0.126,"v7":0.012,"v9":0.065,"v11":-0.035,"v13":-0.03,"v15":0.039,"vout":1.016},
{"t":19.0278,"v1":0.522,"v3":0.055,"v5":-0.127,"v7":0.038,"v9":0.05,"v11":-0.053,"v13":-0.004,"v15":0.041,"vout":1.001},
{"t":19.0972,"v1":0.537,"v3":0.028,"v5":-0.121,"v7":0.062,"v9":0.027,"v11":-0.058,"v13":0.023,"v15":0.026,"vout":0.986},
{"t":19.1667,"v1":0.551,"v3":0,"v5":-0.11,"v7":0.079,"v9":0,"v11":-0.05,"v13":0.042,"v15":0,"vout":0.98},
{"t":19.2361,"v1":0.565,"v3":-0.028,"v5":-0.094,"v7":0.089,"v9":-0.027,"v11":-0.031,"v13":0.049,"v15":-0.026,"vout":0.986},
{"t":19.3056,"v1":0.577,"v3":-0.055,"v5":-0.073,"v7":0.091,"v9":-0.05,"v11":-0.005,"v13":0.04,"v15":-0.041,"vout":1},
{"t":19.375,"v1":0.588,"v3":-0.081,"v5":-0.049,"v7":0.084,"v9":-0.065,"v11":0.022,"v13":0.019,"v15":-0.039,"vout":1.013},
{"t":19.4444,"v1":0.598,"v3":-0.106,"v5":-0.022,"v7":0.07,"v9":-0.071,"v11":0.044,"v13":-0.009,"v15":-0.021,"vout":1.019},
{"t":19.5139,"v1":0.607,"v3":-0.129,"v5":0.006,"v7":0.049,"v9":-0.065,"v11":0.057,"v13":-0.033,"v15":0.006,"vout":1.013},
{"t":19.5833,"v1":0.615,"v3":-0.15,"v5":0.033,"v7":0.024,"v9":-0.05,"v11":0.056,"v13":-0.047,"v15":0.03,"vout":1},
{"t":19.6528,"v1":0.622,"v3":-0.168,"v5":0.059,"v7":-0.004,"v9":-0.027,"v11":0.043,"v13":-0.047,"v15":0.042,"vout":0.987},
{"t":19.7222,"v1":0.627,"v3":-0.184,"v5":0.082,"v7":-0.031,"v9":0,"v11":0.02,"v13":-0.032,"v15":0.037,"vout":0.982},
{"t":19.7917,"v1":0.631,"v3":-0.196,"v5":0.101,"v7":-0.055,"v9":0.027,"v11":-0.008,"v13":-0.006,"v15":0.016,"vout":0.987},
{"t":19.8611,"v1":0.634,"v3":-0.205,"v5":0.115,"v7":-0.075,"v9":0.05,"v11":-0.033,"v13":0.021,"v15":-0.011,"vout":1},
{"t":19.9306,"v1":0.636,"v3":-0.21,"v5":0.124,"v7":-0.087,"v9":0.065,"v11":-0.051,"v13":0.041,"v15":-0.034,"vout":1.013},
{"t":20,"v1":0.637,"v3":-0.212,"v5":0.127,"v7":-0.091,"v9":0.071,"v11":-0.058,"v13":0.049,"v15":-0.042,"vout":1.018}
]},
"layer":[
{"data":{"name":"harm"},
 "transform":[{"fold":["v1","v3","v5","v7","v9","v11","v13","v15","vout"],"as":["series","value"]}],
 "mark":{"type":"line","strokeWidth":1.4,"interpolate":"monotone"},
 "encoding":{
  "x":{"field":"t","type":"quantitative","scale":{"domain":[0,20],"nice":false,"zero":false},
   "axis":{"values":[0,1,2,3,4,5,6,7,8,9,10,11,12,13,14,15,16,17,18,19,20],"tickCount":50,"title":null,"grid":true,"gridColor":"#c4c4c4","gridWidth":1.5,"domain":false,"ticks":false,"labelPadding":4,"labelFlush":true,"labelOverlap":false,"labelFont":"DejaVu Sans Mono","labelFontSize":12,"labelColor":"#2ebfbf",
    "labelExpr":"datum.value == 0 ? '0.00' : (datum.value < 10 ? format(datum.value, '.2f') : format(datum.value, '.1f')) + 'm'"}},
  "y":{"field":"value","type":"quantitative","scale":{"domain":[-0.7,1.1],"nice":false,"zero":false},
   "axis":{"values":[-0.7,-0.6,-0.5,-0.4,-0.3,-0.2,-0.1,0,0.1,0.2,0.3,0.4,0.5,0.6,0.7,0.8,0.9,1,1.1],"tickCount":50,"title":null,"grid":true,"gridColor":"#e0e0e0","gridWidth":3,"domain":false,"ticks":false,"labelPadding":3,"labelFlush":true,"labelOverlap":false,"labelFont":"DejaVu Sans Mono","labelFontSize":12,"labelColor":"#2ebfbf",
    "labelExpr":"datum.value == 0 ? '0.00' : (abs(datum.value) > 0.95 ? format(datum.value, '.2f') : (datum.value < 0 ? '-' : '') + format(abs(round(datum.value * 1000)), 'd') + 'm')"}},
  "color":{"field":"series","type":"nominal",
   "scale":{"domain":["vout","v1","v3","v5","v7","v9","v11","v13","v15","+0.5V"],"range":["#3ee83e","#ff3c3c","#38e4e4","#3a3a8a","#ff9a3a","#ff3cff","#2cd42c","#ff4a4a","#4ae8f0","#4848a0"]},
   "legend":{"orient":"none","legendX":-4,"legendY":-1,"title":null,"padding":0,"symbolSize":4,"symbolStrokeWidth":0,"symbolOpacity":0,"labelOffset":0,"labelFont":"DejaVu Sans Mono","labelFontSize":11,"rowPadding":-1,
    "labelColor":{"expr":"scale('color', datum.value)"},
    "labelExpr":"datum.label == 'vout' ? 'vout(t)' : datum.label"}}}},
{"data":{"values":[{"series":"+0.5V","value":0.5}]},
 "mark":{"type":"rule","strokeWidth":1.6},
 "encoding":{
  "y":{"field":"value","type":"quantitative"},
  "color":{"field":"series","type":"nominal"}}},
{"data":{"values":[{"label":"ARMONICHE e USCITA"}]},
 "layer":[
  {"mark":{"type":"rect","color":"#00b400","clip":false},
   "encoding":{
    "x":{"datum":-0.735,"type":"quantitative"},
    "x2":{"datum":20.075},
    "y":{"datum":1.1466,"type":"quantitative"},
    "y2":{"datum":1.1093}}},
  {"mark":{"type":"text","font":"DejaVu Sans Mono","fontSize":15,"color":"#143014","align":"center","baseline":"middle","clip":false},
   "encoding":{
    "x":{"datum":9.63,"type":"quantitative"},
    "y":{"datum":1.128,"type":"quantitative"},
    "text":{"field":"label"}}}
 ]}
]
}
